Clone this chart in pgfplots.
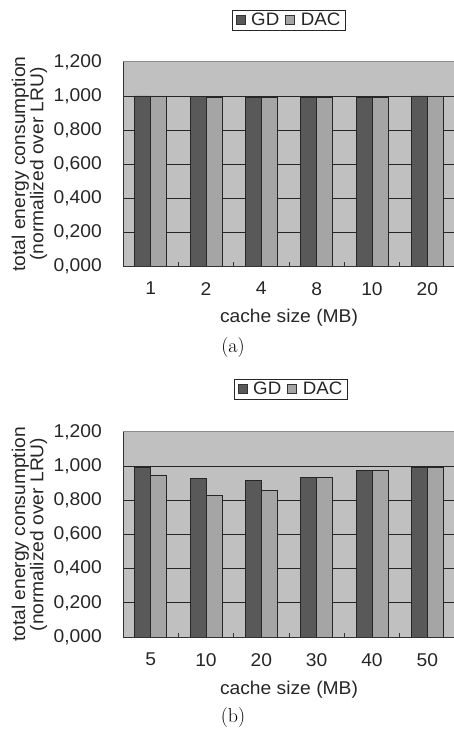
\documentclass[border=0pt]{standalone}
\usepackage{pgfplots}
\pgfplotsset{compat=1.18}
\usepackage{fontspec}
\newfontfamily\chartfont[FakeStretch=1.04]{Liberation Sans}
\definecolor{bgray}{HTML}{C0C0C0}
\definecolor{gdcol}{HTML}{595959}
\definecolor{daccol}{HTML}{A5A5A5}
\definecolor{topline}{HTML}{8C8C8C}

\pgfplotsset{
  energy/.style={
    scale only axis,
    width=332pt,
    xmin=-0.5, xmax=5.5,
    ymin=0, ymax=1.2,
    ybar=0pt,
    bar width=16pt,
    axis background/.style={fill=bgray},
    axis x line*=bottom,
    axis y line*=left,
    axis line style={-, draw=black!80, line width=0.9pt},
    xtick={0,1,2,3,4,5},
    minor xtick={0.5,1.5,2.5,3.5,4.5},
    major tick length=0pt,
    minor tick length=4pt,
    tick align=inside,
    minor tick style={draw=black!80, line width=0.8pt},
    ytick={0,0.2,0.4,0.6,0.8,1.0},
    yticklabels={{0,000},{0,200},{0,400},{0,600},{0,800},{1,000}},
    extra y ticks={1.2},
    extra y tick labels={1{,}200},
    extra y tick style={major grid style={draw=topline, line width=1pt}},
    ymajorgrids,
    major grid style={draw=black!85, line width=0.8pt},
    /pgf/number format/assume math mode=true,
    tick label style={font=\chartfont\fontsize{18.5}{19}\selectfont, text=black!85},
    yticklabel style={anchor=east, inner sep=0pt, xshift=-21pt},
    xticklabel style={anchor=north, inner sep=0pt, yshift=-16pt},
    label style={font=\chartfont\fontsize{18.5}{17}\selectfont, text=black!85},
    ylabel={total energy consumption\\(normalized over LRU)},
    ylabel style={at={(axis description cs:-0.2816,0.5)}, anchor=center, align=center},
    xlabel={cache size (MB)},
    legend columns=2,
    legend style={draw=black!85, fill=white, line width=0.6pt,
      font=\chartfont\fontsize{18}{18}\selectfont, text=black!85,
      inner xsep=3pt, inner ysep=1pt,
      /tikz/every even column/.append style={column sep=4pt}},
    legend image code/.code={\draw[#1, draw=black!80, line width=0.6pt] (0pt,-4.5pt) rectangle (9pt,4.5pt);
      \path (13pt,0pt);},
    every axis plot/.append style={draw=black!85, line width=0.7pt},
  }
}

\begin{document}
\begin{tikzpicture}
\path[use as bounding box] (0pt,0pt) rectangle (454pt,731pt);

% (a)
\begin{axis}[energy,
  height=204pt,
  at={(123pt,465pt)}, anchor=south west,
  xticklabels={1,2,4,8,10,20},
  xlabel style={at={(axis description cs:0.5,-0.255)}, anchor=center},
  legend style={at={(axis description cs:0.5,1.206)}, anchor=center},
]
\addplot[fill=gdcol] coordinates {(0,1.000) (1,0.998) (2,0.992) (3,0.992) (4,0.991) (5,1.000)};
\addplot[fill=daccol] coordinates {(0,1.000) (1,0.990) (2,0.990) (3,0.990) (4,0.990) (5,1.000)};
\legend{GD,DAC}
\end{axis}

% (b)
\begin{axis}[energy,
  height=205pt,
  at={(123pt,94pt)}, anchor=south west,
  xticklabels={5,10,20,30,40,50},
  xlabel style={at={(axis description cs:0.5,-0.2585)}, anchor=center},
  legend style={at={(axis description cs:0.506,1.21)}, anchor=center},
]
\addplot[fill=gdcol] coordinates {(0,0.995) (1,0.926) (2,0.918) (3,0.934) (4,0.973) (5,0.994)};
\addplot[fill=daccol] coordinates {(0,0.949) (1,0.827) (2,0.856) (3,0.934) (4,0.973) (5,0.994)};
\legend{GD,DAC}
\end{axis}

\node[font=\fontsize{20}{20}\selectfont] at (233pt,383pt) {(a)};
\node[font=\fontsize{20}{20}\selectfont] at (233pt,13pt) {(b)};
\end{tikzpicture}
\end{document}
